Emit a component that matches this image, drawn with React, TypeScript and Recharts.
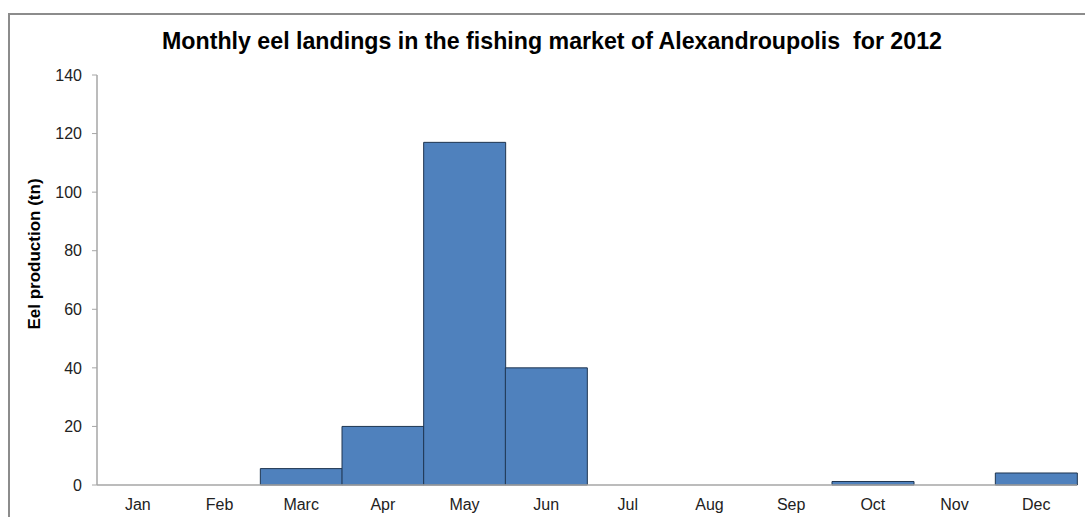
import React from 'react';
import { BarChart, Bar, XAxis, YAxis } from 'recharts';

const months = ['Jan', 'Feb', 'Marc', 'Apr', 'May', 'Jun', 'Jul', 'Aug', 'Sep', 'Oct', 'Nov', 'Dec'];
const landings = [0, 0, 5.6, 20, 117, 40, 0, 0, 0, 1.2, 0, 4.1];
const yTicks = [0, 20, 40, 60, 80, 100, 120, 140];

const data = months.map((m, i) => ({ month: m, value: landings[i] }));

const font = '"Liberation Sans", Arial, sans-serif';

const App: React.FC = () => {
  return (
    <div style={{ position: 'absolute', left: 0, top: 0, width: 1085, height: 517, overflow: 'hidden', background: '#fff', fontFamily: font }}>
      {/* outer frame */}
      <div style={{ position: 'absolute', left: 8, top: 13, width: 1100, height: 540, border: '2px solid #8c8c8c', boxSizing: 'border-box' }} />
      <div style={{ position: 'absolute', left: 0, top: 28, width: 1104, textAlign: 'center', fontSize: 23.2, fontWeight: 'bold', color: '#000' }}>
        Monthly eel landings in the fishing market of Alexandroupolis&nbsp; for 2012
      </div>
      <div
        style={{
          position: 'absolute', left: 35, top: 254, fontSize: 17, fontWeight: 'bold', color: '#000',
          transform: 'translate(-50%, -50%) rotate(-90deg)', whiteSpace: 'nowrap',
        }}
      >
        Eel production (tn)
      </div>
      <div style={{ position: 'absolute', left: 0, top: 0 }}>
        <BarChart width={1085} height={517} data={data} barCategoryGap={0} margin={{ top: 75, right: 8, bottom: 2, left: 47 }}>
          <XAxis
            dataKey="month"
            tickLine={false}
            tickSize={0}
            tickMargin={14}
            height={30}
            axisLine={{ stroke: '#a6a6a6', strokeWidth: 1.5 }}
            tick={{ fill: '#222', fontSize: 16, fontFamily: font }}
          />
          <YAxis
            width={50}
            domain={[0, 140]}
            ticks={yTicks}
            tickSize={5}
            tickMargin={10}
            axisLine={{ stroke: '#a6a6a6', strokeWidth: 1.5 }}
            tickLine={{ stroke: '#a6a6a6' }}
            tick={{ fill: '#222', fontSize: 16, fontFamily: font }}
          />
          <Bar dataKey="value" fill="#4f81bd" stroke="#1f3550" strokeWidth={1} isAnimationActive={false} />
        </BarChart>
      </div>
    </div>
  );
};

export default App;
